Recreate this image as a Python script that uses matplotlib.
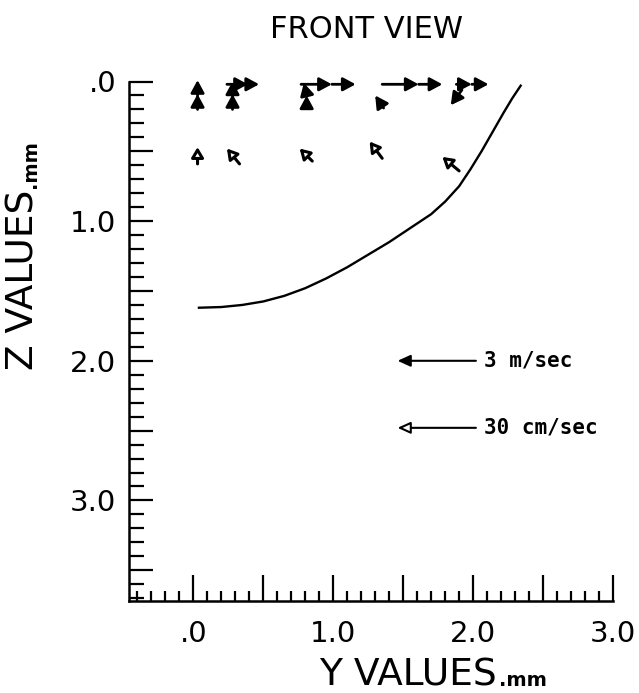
import matplotlib
matplotlib.use('Agg')
import matplotlib.pyplot as plt
from matplotlib.ticker import MultipleLocator, FuncFormatter

# interface curve (y, z) in mm
curve_y = [0.04, 0.20, 0.35, 0.50, 0.65, 0.80, 0.95, 1.10, 1.25, 1.40, 1.55, 1.70, 1.80,
           1.90, 1.98, 2.06, 2.14, 2.22, 2.28, 2.34]
curve_z = [1.62, 1.615, 1.60, 1.575, 1.535, 1.48, 1.41, 1.33, 1.24, 1.15, 1.05, 0.95, 0.86,
           0.75, 0.63, 0.50, 0.36, 0.22, 0.12, 0.03]

# surface vectors, 3 m/sec scale (tail y, tail z, head y, head z)
fast_y0 = [0.03, 0.03, 0.28, 0.28, 0.24, 0.39, 0.81, 0.77, 0.99, 0.81, 1.35, 1.61, 1.36, 1.88, 1.99, 1.92]
fast_z0 = [0.10, 0.20, 0.10, 0.20, 0.02, 0.02, 0.09, 0.02, 0.02, 0.19, 0.02, 0.02, 0.19, 0.02, 0.02, 0.06]
fast_y1 = [0.03, 0.03, 0.28, 0.28, 0.39, 0.47, 0.79, 0.99, 1.16, 0.81, 1.61, 1.78, 1.30, 1.99, 2.11, 1.84]
fast_z1 = [-0.01, 0.09, 0.00, 0.09, 0.02, 0.02, 0.01, 0.02, 0.02, 0.10, 0.02, 0.02, 0.10, 0.02, 0.02, 0.17]

# deeper vectors, 30 cm/sec scale
slow_y0 = [0.03, 0.33, 0.85, 1.35, 1.90]
slow_z0 = [0.59, 0.59, 0.57, 0.55, 0.64]
slow_y1 = [0.03, 0.24, 0.76, 1.26, 1.78]
slow_z1 = [0.47, 0.48, 0.48, 0.43, 0.54]

# reference arrows
ref_labels = ['3 m/sec', '30 cm/sec']
ref_z = [2.0, 2.48]
ref_tail = 2.02
ref_head = 1.46

W, H = 639, 693
fig = plt.figure(figsize=(W / 100, H / 100), dpi=100)
ax = fig.add_axes([129 / W, 1 - 601 / H, (613 - 129) / W, (601 - 81.5) / H])

ax.plot(curve_y, curve_z, color='black', lw=1.7)

for i in range(len(fast_y0)):
    ax.annotate('', xy=(fast_y1[i], fast_z1[i]), xytext=(fast_y0[i], fast_z0[i]),
                annotation_clip=False,
                arrowprops=dict(arrowstyle='-|>,head_length=0.5,head_width=0.27',
                                mutation_scale=15, lw=2.0,
                                color='black', shrinkA=0, shrinkB=0))

for i in range(len(slow_y0)):
    ax.annotate('', xy=(slow_y1[i], slow_z1[i]), xytext=(slow_y0[i], slow_z0[i]),
                annotation_clip=False,
                arrowprops=dict(arrowstyle='-|>,head_length=0.5,head_width=0.3',
                                mutation_scale=12, lw=2.2,
                                ec='black', fc='white', shrinkA=0, shrinkB=0))

for i in range(2):
    fc = 'black' if i == 0 else 'white'
    ax.annotate('', xy=(ref_head, ref_z[i]), xytext=(ref_tail, ref_z[i]),
                arrowprops=dict(arrowstyle='-|>,head_length=0.55,head_width=0.25',
                                mutation_scale=14, lw=1.5,
                                ec='black', fc=fc, shrinkA=0, shrinkB=0))
    ax.text(ref_tail + 0.06, ref_z[i], ref_labels[i], fontsize=15, fontweight='bold',
            family='DejaVu Sans Mono', va='center', ha='left')

ax.set_xlim(-0.46, 3.0)
ax.set_ylim(3.72, 0)

for s in ['top', 'right']:
    ax.spines[s].set_visible(False)
for s in ['left', 'bottom']:
    ax.spines[s].set_linewidth(1.8)


def fmt(v, pos):
    if abs(v - round(v)) > 0.01:
        return ''
    if round(v) == 0:
        return '.0'
    return '%.1f' % v


ax.xaxis.set_major_locator(MultipleLocator(0.5))
ax.xaxis.set_minor_locator(MultipleLocator(0.1))
ax.yaxis.set_major_locator(MultipleLocator(0.5))
ax.yaxis.set_minor_locator(MultipleLocator(0.1))
ax.xaxis.set_major_formatter(FuncFormatter(fmt))
ax.yaxis.set_major_formatter(FuncFormatter(fmt))
ax.tick_params(axis='x', which='major', direction='in', length=19, width=1.6, pad=14, labelsize=21)
ax.tick_params(axis='x', which='minor', direction='in', length=7, width=1.6)
ax.tick_params(axis='y', which='major', direction='in', length=17, width=1.6, pad=9, labelsize=21)
ax.tick_params(axis='y', which='minor', direction='in', length=11, width=1.6)

fig.text(366 / W, 1 - 30 / H, 'FRONT VIEW', fontsize=22, ha='center', va='center')
fig.text(497 / W, 1 - 686 / H, 'Y VALUES', fontsize=27, ha='right', va='baseline')
fig.text(499 / W, 1 - 686 / H, '.mm', fontsize=14, fontweight='bold', ha='left', va='baseline')
fig.text(24 / W, 1 - 190 / H, 'Z VALUES', fontsize=27, rotation=90, ha='center', va='top')
fig.text(31 / W, 1 - 188 / H, '.mm', fontsize=14, fontweight='bold', rotation=90, ha='center', va='bottom')

fig.savefig('out.png', dpi=100)
